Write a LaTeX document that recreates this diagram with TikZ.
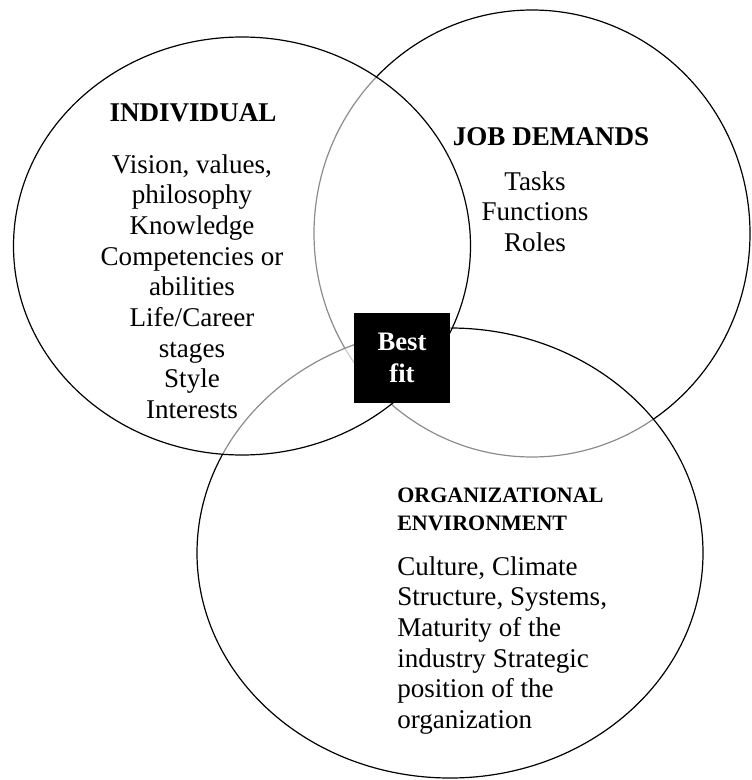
\documentclass[tikz,border=0pt]{standalone}
\usepackage{fontspec}
\setmainfont{Liberation Serif}
\begin{document}
\begin{tikzpicture}[x=0.75pt,y=-0.75pt,
  ring/.style={draw=black, line width=0.9pt},
  veil/.style={fill=white, fill opacity=0.55},
  body/.style={inner sep=0pt, font=\fontsize{20.3}{23}\selectfont},
  head/.style={inner sep=0pt, font=\fontsize{20.3}{23}\selectfont\bfseries}]
\useasboundingbox (0,0) rectangle (751,780);
% circles (drawing order gives the lighter arcs)
\draw[ring] (532,233.5) ellipse [x radius=218, y radius=223.5];
\draw[ring, veil] (450,553) ellipse [x radius=253, y radius=225];
\draw[ring, veil] (242,246) ellipse [x radius=228.5, y radius=209];
% individual
\node[head] (indT) at (193,113) {INDIVIDUAL};
\node[body, align=center, anchor=north] (indB) at (192,154)
  {Vision, values,\\philosophy\\Knowledge\\Competencies or\\abilities\\Life/Career\\stages\\Style\\Interests};
% job demands
\node[head] (jobT) at (551,137) {JOB DEMANDS};
\node[body, align=center, anchor=north] (jobB) at (535,171)
  {Tasks\\Functions\\Roles};
% organizational environment
\node[inner sep=0pt, font=\fontsize{16.5}{21}\selectfont\bfseries, align=left, anchor=north west] (orgT) at (397,488)
  {ORGANIZATIONAL\\ENVIRONMENT};
\node[body, align=left, anchor=north west] (orgB) at (397,556)
  {Culture, Climate\\Structure, Systems,\\Maturity of the\\industry Strategic\\position of the\\organization};
% best fit
\node[fill=black, text=white, inner sep=0pt, minimum width=72pt, minimum height=67.5pt,
  align=center, font=\fontsize{20}{24}\selectfont\bfseries] (best) at (402,358) {Best\\fit};
\end{tikzpicture}
\end{document}
